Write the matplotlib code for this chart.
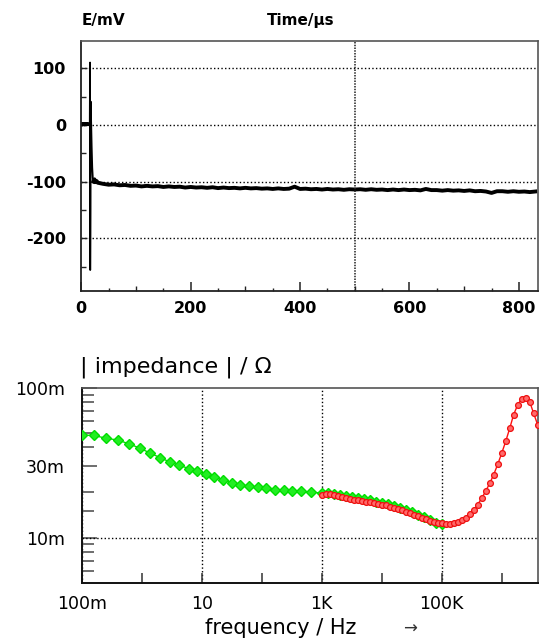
import numpy as np
import matplotlib
matplotlib.use('Agg')
import matplotlib.pyplot as plt

# ---------------- top panel: transient E(t)
time_us = [0, 2, 4, 6, 8, 10, 12, 14, 15.5, 16, 16.3, 16.8, 17.3, 18, 19, 20, 21, 22,
           24, 26, 28,
           30, 40, 50, 60, 70, 80, 90, 100, 110, 120, 130, 140, 150, 160, 170, 180, 190,
           200, 210, 220, 230, 240, 250, 260, 270, 280, 290, 300, 310, 320, 330, 340,
           350, 360, 370, 380, 390, 400, 410, 420, 430, 440, 450, 460, 470, 480, 490,
           500, 510, 520, 530, 540, 550, 560, 570, 580, 590, 600, 610, 620, 630, 640,
           650, 660, 670, 680, 690, 700, 710, 720, 730, 740, 750, 760, 770, 780, 790,
           800, 810, 820, 830]
e_mv = [1.5, 0.5, 2, 0.5, 2, 1, 2, 1, 1, 110, -256, -150, 41, 5, -40, -75, -93, -100,
        -96, -101, -99,
        -102, -104, -105.5, -105, -106.5, -106, -107.5, -107, -108.5, -107.5, -108.5,
        -108, -109.5, -108.5, -109.5, -109, -110.5, -109.5, -110.5, -110, -111, -110,
        -111.5, -110.5, -111.5, -111, -112, -111, -112, -111.5, -112.5, -112, -113,
        -112, -113, -112.5, -109, -113, -112.5, -113.5, -113, -114, -113, -114, -113.5,
        -114.5, -113.5, -114, -113.5, -114.5, -113.5, -114.5, -114, -115, -114, -115,
        -114, -115, -114.5, -115.5, -113, -115, -115, -116, -115, -116, -115.5, -116.5,
        -115.5, -117, -116.5, -117.5, -120, -117, -117, -118, -117, -118, -117.5,
        -118.5, -117.5]

# ---------------- bottom panel: |impedance| spectra (mOhm)
freq_green = [0.1, 0.158, 0.251, 0.40, 0.618, 0.93, 1.39, 2.04, 2.92, 4.23, 6.04, 8.41,
              11.7, 16.3, 22.7, 31.7, 44.1, 61.4, 85.5, 119, 166, 231, 322, 449, 667,
              1000, 1260, 1580, 2000, 2510, 3160, 3980, 5010, 6310, 7940, 10000, 12600,
              15800, 20000, 25100, 31600, 39800, 50100, 63100, 79400, 100000]
z_green = [48.3, 48.0, 46.1, 44.7, 42.2, 39.5, 36.6, 34.1, 32.0, 30.4, 28.9, 27.7,
           26.4, 25.3, 24.2, 23.2, 22.5, 22.0, 21.7, 21.3, 20.9, 20.7, 20.5, 20.3, 20.1,
           19.8, 19.7, 19.6, 19.3, 19.0, 18.6, 18.3, 18.0, 17.7, 17.4, 17.0, 16.7,
           16.3, 15.8, 15.3, 14.8, 14.2, 13.7, 13.1, 12.6, 12.3]

freq_red = [1000, 1170, 1360, 1580, 1850, 2150, 2510, 2930, 3410, 3980, 4640, 5410,
            6310, 7360, 8580, 10000, 11700, 13600, 15800, 18500, 21500, 25100, 29300,
            34100, 39800, 46400, 54100, 63100, 73600, 85800, 100000, 117000, 136000,
            158000, 185000, 215000, 251000, 293000, 341000, 398000, 464000, 541000,
            631000, 736000, 858000, 1000000, 1170000, 1360000, 1580000, 1850000,
            2150000, 2510000, 2930000, 3410000, 3980000]
z_red = [19.3, 19.5, 19.5, 19.3, 19.0, 18.7, 18.4, 18.1, 17.9, 17.7, 17.5, 17.3,
         17.2, 17.0, 16.8, 16.6, 16.4, 16.1, 15.8, 15.5, 15.2, 14.9, 14.5,
         14.2, 13.9, 13.6, 13.3, 13.0, 12.8, 12.6, 12.5, 12.4, 12.4,
         12.5, 12.8, 13.1, 13.6, 14.3, 15.3, 16.6, 18.3, 20.4,
         23.0, 26.3, 30.8, 36.5, 44.0, 53.5, 66.0, 77.0,
         84.0, 85.5, 80.5, 67.5, 56.5]

fx_major = [0.1, 10, 1e3, 1e5]
fx_major_lbl = ['100m', '10', '1K', '100K']
fx_minor = [1, 100, 1e4, 1e6]
zy_major = [0.01, 0.03, 0.1]
zy_major_lbl = ['10m', '30m', '100m']
zy_minor = [0.006, 0.007, 0.008, 0.009, 0.015, 0.02, 0.04, 0.05, 0.06, 0.07, 0.08, 0.09]

plt.rcParams['font.family'] = ['DejaVu Sans']
plt.rcParams['axes.unicode_minus'] = False

fig = plt.figure(figsize=(5.42, 6.39), dpi=100)
W, H = 542.0, 639.0

# ---------------- top panel
ax1 = fig.add_axes([81.3 / W, 1 - 291 / H, (538 - 81.3) / W, (291 - 41) / H])
t = np.array(time_us)
e = np.array(e_mv)
ax1.plot(t, e, color='black', lw=1.3)
ax1.plot(t[:9], e[:9], color='black', lw=2.6)
ax1.plot(t[17:], e[17:], color='black', lw=2.8)
ax1.set_xlim(0, 835)
ax1.set_ylim(-293, 148)
ax1.set_xticks([0, 200, 400, 600, 800])
ax1.set_xticks(np.arange(50, 800, 100), minor=True)
ax1.set_yticks([-200, -100, 0, 100])
ax1.set_yticks([-250, -150, -50, 50], minor=True)
ax1.tick_params(axis='x', which='major', direction='in', length=6.3, width=1.1,
                color='#222', pad=7, labelsize=11.5)
ax1.tick_params(axis='x', which='minor', direction='in', length=2.4, width=1.0, color='#222')
ax1.tick_params(axis='y', which='major', direction='in', length=4, width=1.0,
                color='#222', pad=11, labelsize=11.5)
ax1.tick_params(axis='y', which='minor', direction='in', length=3.8, width=1.0, color='#222')
for lbl in ax1.get_xticklabels() + ax1.get_yticklabels():
    lbl.set_fontweight('bold')
sec = ax1.secondary_xaxis('bottom')
sec.set_xticks([100, 300, 500, 700])
sec.tick_params(direction='in', length=3.8, width=1.0, color='#222', labelbottom=False)
sec.spines['bottom'].set_visible(False)
ax1.grid(axis='y', which='major', linestyle=':', color='black', lw=1.0)
ax1.axvline(500, linestyle=(0, (1, 0.8)), color='#222', lw=1.1)
for s in ['left', 'bottom']:
    ax1.spines[s].set_color('#222')
    ax1.spines[s].set_linewidth(1.3)
for s in ['top', 'right']:
    ax1.spines[s].set_color('#555')
    ax1.spines[s].set_linewidth(1.2)

fig.text(82 / W, 1 - 21 / H, 'E/mV', ha='left', va='center', fontsize=11, fontweight='bold')
fig.text(301 / W, 1 - 21 / H, 'Time/\u03bcs', ha='center', va='center', fontsize=11,
         fontweight='bold')

# ---------------- bottom panel
ax2 = fig.add_axes([81.7 / W, 1 - 582.7 / H, (538 - 81.7) / W, (582.7 - 387.7) / H])
ax2.plot(freq_green, np.array(z_green) * 1e-3, color='#00e000', lw=1.0, marker='D',
         ms=5, mfc='#22ee22', mec='#00dd00', zorder=3)
ax2.plot(freq_red, np.array(z_red) * 1e-3, color='#ff1010', lw=1.0, marker='o',
         ms=4.2, mfc='#ff6a6a', mec='#ee1010', mew=0.9, zorder=4)
ax2.set_xscale('log')
ax2.set_yscale('log')
ax2.set_xlim(0.1, 4.03e6)
ax2.set_ylim(5e-3, 0.1)
ax2.set_xticks(fx_major)
ax2.set_xticklabels(fx_major_lbl)
ax2.set_xticks(fx_minor, minor=True)
ax2.set_xticklabels([], minor=True)
ax2.set_yticks(zy_major)
ax2.set_yticklabels(zy_major_lbl)
ax2.set_yticks(zy_minor, minor=True)
ax2.set_yticklabels([], minor=True)
ax2.tick_params(axis='x', which='both', direction='in', length=7.2, width=1.1,
                color='#333', pad=9, labelsize=12.5)
ax2.tick_params(axis='y', which='major', direction='in', length=10.8, width=1.2,
                color='#555', pad=12, labelsize=12.5)
ax2.tick_params(axis='y', which='minor', direction='in', length=8.6, width=1.2, color='#555')
ax2.grid(axis='x', which='major', linestyle=':', color='black', lw=1.0)
ax2.axhline(0.01, linestyle=':', color='black', lw=1.0)
for s in ['left', 'bottom']:
    ax2.spines[s].set_color('#111')
    ax2.spines[s].set_linewidth(1.4)
for s in ['top', 'right']:
    ax2.spines[s].set_color('#555')
    ax2.spines[s].set_linewidth(1.2)

fig.text(80 / W, 1 - 367 / H, '| impedance | / \u03a9', ha='left', va='center', fontsize=16)
fig.text(281 / W, 1 - 628 / H, 'frequency / Hz', ha='center', va='center', fontsize=15)
fig.text(410 / W, 1 - 629 / H, '\u2192', ha='center', va='center', fontsize=12, color='#333')

fig.savefig('out.png', dpi=100)
